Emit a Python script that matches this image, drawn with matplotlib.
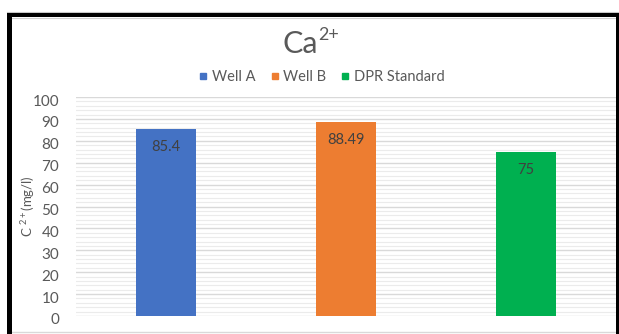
import matplotlib
matplotlib.use("Agg")
import matplotlib.pyplot as plt
import matplotlib.transforms as mtransforms
from matplotlib.patches import Rectangle
from matplotlib.lines import Line2D
from matplotlib.ticker import MultipleLocator

plt.rcParams['font.family'] = ['Lato', 'DejaVu Sans']
plt.rcParams['mathtext.fontset'] = 'custom'
plt.rcParams['mathtext.rm'] = 'Lato'
plt.rcParams['mathtext.it'] = 'Lato'
plt.rcParams['mathtext.bf'] = 'Lato'

# Data
categories = ["Well A", "Well B", "DPR Standard"]
values = [85.4, 88.49, 75]
colors = ["#4472C4", "#ED7D31", "#00B050"]
value_labels = ["85.4", "88.49", "75"]
y_ticks = list(range(0, 101, 10))

W, H = 619, 334
fig = plt.figure(figsize=(W / 100, H / 100), dpi=100)


def fx(px):
    return px / W


def fy(py):
    return 1 - py / H


# Frame around the chart
frame_color = "black"
fig.patches.append(Rectangle((fx(7), fy(17)), fx(612), 4 / H, transform=fig.transFigure,
                             facecolor=frame_color, edgecolor="none", zorder=5))
fig.patches.append(Rectangle((fx(7), 0), fx(5), fy(13), transform=fig.transFigure,
                             facecolor=frame_color, edgecolor="none", zorder=5))
fig.patches.append(Rectangle((fx(616), 0), fx(4), fy(13), transform=fig.transFigure,
                             facecolor=frame_color, edgecolor="none", zorder=5))
fig.add_artist(Line2D([fx(7), 1], [fy(12), fy(12)], transform=fig.transFigure,
                      color="#c8c8c8", lw=0.8))
fig.add_artist(Line2D([fx(12), fx(616)], [fy(18), fy(18)], transform=fig.transFigure,
                      color="#d0d0d0", lw=0.8))
fig.add_artist(Line2D([fx(12), fx(616)], [fy(331.5), fy(331.5)], transform=fig.transFigure,
                      color="#d9d9d9", lw=1.0))

# Plot area
ax = fig.add_axes([fx(76), fy(316), fx(616) - fx(76), fy(97) - fy(316)])
x = list(range(len(categories)))
bars = ax.bar(x, values, width=0.333, color=colors, zorder=3)
for bar, lab in zip(bars, value_labels):
    ax.text(bar.get_x() + bar.get_width() / 2, bar.get_height() - 5.0, lab,
            ha="center", va="top", fontsize=10.5, color="#404040", zorder=4)

ax.set_xlim(-0.5, 2.5)
ax.set_ylim(0, 100)
ax.set_yticks(y_ticks)
ax.yaxis.set_minor_locator(MultipleLocator(2))
ax.set_xticks([])
ax.grid(axis="y", which="major", color="#d9d9d9", lw=1.0, zorder=1)
ax.grid(axis="y", which="minor", color="#ebebeb", lw=0.8, zorder=0)
ax.tick_params(axis="y", which="both", length=0, pad=12, labelsize=11, labelcolor="#595959")
shift = mtransforms.ScaledTranslation(0, -3 / 100, fig.dpi_scale_trans)
for lbl in ax.get_yticklabels():
    lbl.set_transform(lbl.get_transform() + shift)
for s in ax.spines.values():
    s.set_visible(False)

ax.set_ylabel("C $^{2+}$(mg/l)", fontsize=9.5, color="#595959")
ax.yaxis.set_label_coords(-0.072, 0.5)

# Title with a hand-placed superscript
fig.text(fx(283), fy(53), "Ca", ha="left", va="baseline", fontsize=22, color="#595959")
fig.text(fx(318), fy(40), "2+", ha="left", va="baseline", fontsize=13, color="#595959")

handles = [Line2D([0], [0], marker="s", linestyle="none", markersize=5,
                  markerfacecolor=c, markeredgecolor=c) for c in colors]
fig.legend(handles, categories, loc="center", bbox_to_anchor=(fx(322), fy(77)), ncol=3,
           frameon=False, fontsize=10.5, handlelength=0.6, handletextpad=0.3,
           columnspacing=1.0, labelcolor="#595959")

fig.savefig("out.png", dpi=100)
